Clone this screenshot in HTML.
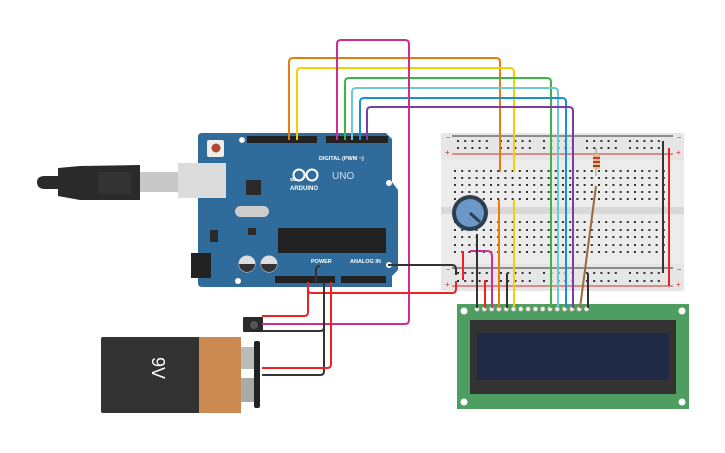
<!DOCTYPE html>
<html><head><meta charset="utf-8"><style>
html,body{margin:0;padding:0;background:#fff;width:725px;height:453px;overflow:hidden}
svg{display:block}
text{font-family:"Liberation Sans",sans-serif}
</style></head><body>
<svg id="s" width="725" height="453" viewBox="0 0 725 453" xmlns="http://www.w3.org/2000/svg">
<!-- breadboard -->
<rect x="441" y="133" width="243" height="158" rx="2" fill="#e6e6e6"/>
<rect x="441" y="160" width="243" height="48" fill="#ececec"/>
<rect x="441" y="214" width="243" height="50" fill="#ececec"/>
<rect x="441" y="207" width="243" height="7" fill="#d8d8d8"/>
<line x1="452" y1="136" x2="673" y2="136" stroke="#333" stroke-width="1"/>
<line x1="452" y1="154" x2="673" y2="154" stroke="#c33" stroke-width="1"/>
<line x1="452" y1="268" x2="673" y2="268" stroke="#333" stroke-width="1"/>
<line x1="452" y1="286" x2="673" y2="286" stroke="#c33" stroke-width="1"/>
<text x="446" y="140" font-size="7" fill="#444">−</text><text x="445" y="155" font-size="8" fill="#c33">+</text>
<text x="677" y="140" font-size="7" fill="#444">−</text><text x="676" y="155" font-size="8" fill="#c33">+</text>
<text x="446" y="272" font-size="7" fill="#444">−</text><text x="445" y="287" font-size="8" fill="#c33">+</text>
<text x="677" y="272" font-size="7" fill="#444">−</text><text x="676" y="287" font-size="8" fill="#c33">+</text>
<g id="dots" fill="#333"></g>
<!-- arduino -->
<path d="M198 137 Q198 133 202 133 L386 133 L392 139 L392 182 L398 190 L398 270 L392 276 L392 287 L202 287 Q198 287 198 283 Z" fill="#2f6b9b"/>
<rect x="247" y="136" width="70" height="7" fill="#222"/>
<rect x="326" y="136" width="62" height="7" fill="#222"/>
<rect x="275" y="276" width="60" height="7" fill="#222"/>
<rect x="341" y="276" width="45" height="7" fill="#222"/>
<rect x="207" y="140" width="17" height="17" rx="2" fill="#eee"/><circle cx="216" cy="148" r="4.5" fill="#b5452a"/>
<circle cx="242" cy="140" r="3" fill="#fff" stroke="#888" stroke-width=".5"/>
<circle cx="389" cy="183" r="3" fill="#fff"/>
<circle cx="389" cy="265" r="3" fill="#fff"/>
<circle cx="238" cy="281" r="3" fill="#fff"/>
<text x="319" y="160" font-size="5.5" fill="#fff" font-weight="bold">DIGITAL (PWM ~)</text>
<text x="290" y="182" font-size="9" fill="#fff" font-weight="bold">∞</text>
<circle cx="299" cy="175" r="5.5" fill="none" stroke="#fff" stroke-width="2"/><circle cx="312" cy="175" r="5.5" fill="none" stroke="#fff" stroke-width="2"/>
<text x="290" y="190" font-size="6" fill="#fff" font-weight="bold">ARDUINO</text>
<text x="332" y="179" font-size="10" fill="#cfe0ef">UNO</text>
<rect x="246" y="180" width="15" height="15" fill="#2a2a2a"/>
<rect x="235" y="206" width="34" height="11" rx="5.5" fill="#ccc"/>
<rect x="248" y="228" width="8" height="7" fill="#2a2a2a"/>
<rect x="210" y="230" width="8" height="12" fill="#2a2a2a"/>
<rect x="278" y="228" width="108" height="25" fill="#222"/>
<rect x="191" y="253" width="20" height="25" fill="#222"/>
<circle cx="247" cy="264" r="8.5" fill="#ddd"/><path d="M239 264 A8 8 0 0 0 255 264 Z" fill="#333"/>
<circle cx="269" cy="264" r="8.5" fill="#ddd"/><path d="M261 264 A8 8 0 0 0 277 264 Z" fill="#333"/>
<text x="311" y="263" font-size="5.5" fill="#fff" font-weight="bold">POWER</text>
<text x="350" y="263" font-size="5.5" fill="#fff" font-weight="bold">ANALOG IN</text>
<!-- usb -->
<rect x="178" y="163" width="48" height="35" fill="#dcdcdc"/>
<rect x="140" y="172" width="38" height="20" fill="#c8c8c8"/>
<path d="M58 168 L80 166 L140 165 L140 200 L80 200 L58 196 Z" fill="#2a2a2a"/>
<path d="M37 182 Q37 176 45 176 L58 176 L58 189 L45 189 Q37 189 37 182Z" fill="#2a2a2a"/>
<rect x="98" y="172" width="33" height="22" fill="#333"/>
<!-- battery -->
<rect x="101" y="337" width="99" height="76" rx="2" fill="#333"/>
<rect x="199" y="337" width="42" height="76" fill="#cc8a50"/>
<rect x="241" y="347" width="13" height="22" fill="#bbb"/>
<rect x="241" y="378" width="13" height="24" fill="#aaa"/>
<rect x="254" y="341" width="6" height="67" rx="2" fill="#222"/>
<text x="145" y="375" font-size="18" fill="#fff" transform="rotate(90 152 375)" text-anchor="middle">9V</text>
<!-- transistor/button -->
<rect x="243" y="317" width="20" height="15" rx="1" fill="#2a2a2a"/><circle cx="254" cy="325" r="4" fill="#555"/>
<!-- LCD -->
<rect x="457" y="304" width="232" height="105" fill="#4e9e62"/>
<circle cx="464" cy="311" r="3.5" fill="#fff"/><circle cx="682" cy="311" r="3.5" fill="#fff"/>
<circle cx="464" cy="402" r="3.5" fill="#fff"/><circle cx="682" cy="402" r="3.5" fill="#fff"/>
<rect x="470" y="320" width="206" height="74" fill="#333"/>
<rect x="477" y="333" width="192" height="47" fill="#1e2a46"/>
<g id="pins"></g>
<!-- pot -->
<circle cx="470" cy="213" r="18" fill="#2d3e4f"/>
<circle cx="470" cy="213" r="14" fill="#6b98c9"/>
<line x1="470" y1="213" x2="480" y2="222" stroke="#2d3e4f" stroke-width="3"/>
<!-- resistor -->
<line x1="596" y1="148" x2="596" y2="176" stroke="#999" stroke-width="1"/>
<rect x="593" y="154" width="7" height="15" rx="2" fill="#e0c080"/>
<rect x="593" y="157" width="7" height="2" fill="#c33"/><rect x="593" y="161" width="7" height="2" fill="#c33"/><rect x="593" y="165" width="7" height="2" fill="#8a4a20"/>
<g fill="none" stroke-width="2" stroke-linejoin="round">
<path d="M289 140 V62 Q289 58 293 58 H496 Q500 58 500 62 V172" stroke="#e87d0d"/>
<path d="M499 200 V308" stroke="#e87d0d"/>
<path d="M297 140 V72 Q297 68 301 68 H510 Q514 68 514 72 V172" stroke="#f3d000"/>
<path d="M514 200 V308" stroke="#f3d000"/>
<path d="M345 140 V82 Q345 78 349 78 H547 Q551 78 551 82 V308" stroke="#3bb54a"/>
<path d="M352 140 V92 Q352 88 356 88 H554 Q558 88 558 92 V308" stroke="#6cc9d6"/>
<path d="M360 140 V102 Q360 98 364 98 H562 Q566 98 566 102 V308" stroke="#1a8fd6"/>
<path d="M367 140 V111 Q367 107 371 107 H569 Q573 107 573 111 V308" stroke="#7a3ea0"/>
<path d="M337 140 V44 Q337 40 341 40 H405 Q409 40 409 44 V320 Q409 324 405 324 H262" stroke="#d02d90"/>
<path d="M470 251 H487 Q492 251 492 256 V308" stroke="#d02d90"/>
<path d="M596 186 L580 308" stroke="#9a6a3a"/>
<path d="M663 141 V273" stroke="#333"/>
<path d="M669 148 V286" stroke="#e22"/>
<path d="M388 265 H452 Q456 265 456 270 V275" stroke="#333"/>
<path d="M477 234 V308" stroke="#333"/>
<path d="M507 273 V308" stroke="#333"/>
<path d="M588 273 V308" stroke="#333"/>
<path d="M463 251 V280" stroke="#e22"/>
<path d="M485 280 V308" stroke="#e22"/>
<path d="M308 282 V290 Q308 293 312 293 H452 Q456 293 456 289 V281" stroke="#e22"/>
<path d="M308 282 V312 Q308 316 304 316 H262" stroke="#e22"/>
<path d="M324 282 V327 Q324 331 320 331 H262" stroke="#333"/>
<path d="M324 300 V371 Q324 375 320 375 H262" stroke="#333"/>
<path d="M331 282 V364 Q331 368 327 368 H262" stroke="#e22"/>
<path d="M316 282 V270 Q316 266 320 266" stroke="#333"/>
</g>
</svg>
<script>
var d=document.getElementById('dots'),h='';
function dot(x,y){h+='<rect x="'+(x-1)+'" y="'+(y-1)+'" width="2" height="2"/>';}
for(var c=0;c<30;c++){var x=455+c*7.2;
[171,178,185,192,199,222,230,237,245,252].forEach(function(y){dot(x,y)});}
for(var g=0;g<5;g++)for(var k=0;k<5;k++){var x=458+g*43+k*7.2;[141,148,273,281].forEach(function(y){dot(x,y)});}
d.innerHTML=h;
var p=document.getElementById('pins'),q='';
for(var i=0;i<16;i++){var x=477+i*7.3;q+='<circle cx="'+x+'" cy="309" r="2.3" fill="#eee" stroke="#aa8" stroke-width=".7"/>';}
p.innerHTML=q;
</script>
</body></html>
